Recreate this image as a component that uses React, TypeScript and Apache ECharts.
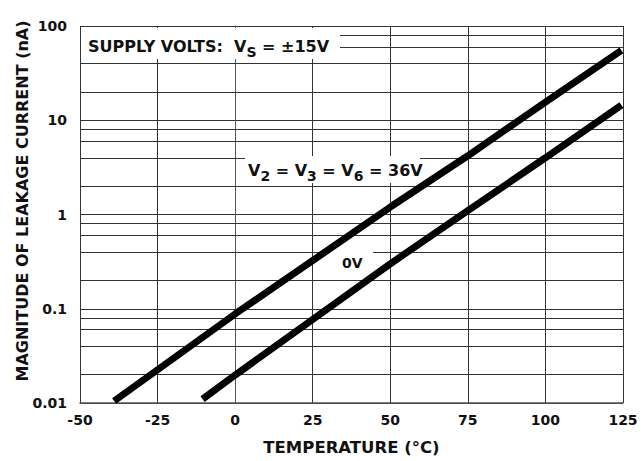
import React, { useEffect, useRef } from 'react';
import * as echarts from 'echarts';

// Axis values
const xMin = -50;
const xMax = 125;
const xStep = 25;
const yTickLabels = ['0.01', '0.1', '1', '10', '100'];
const minorGridValues = [0.02, 0.04, 0.06, 0.08, 0.2, 0.4, 0.6, 0.8, 2, 4, 6, 8, 20, 40, 60, 80];

// Series: V2 = V3 = V6 = 36V
const temp36V = [-39, 0, 50, 75, 100, 124.5];
const leak36V = [0.0105, 0.088, 1.2, 4.2, 15.6, 55];
// Series: 0V
const temp0V = [-10.5, 0, 50, 75, 100, 124.5];
const leak0V = [0.011, 0.0198, 0.3, 1.1, 4.0, 14.5];

const FONT = '"DejaVu Sans", sans-serif';

const richStyles = {
  m: { font: `bold 16px ${FONT}`, fill: '#111', verticalAlign: 'middle', lineHeight: 26 },
  s: { font: `bold 14px ${FONT}`, fill: '#111', verticalAlign: 'bottom', lineHeight: 14 },
};

export default function App() {
  const ref = useRef<HTMLDivElement>(null);
  useEffect(() => {
    if (!ref.current) return;
    const chart = echarts.init(ref.current, undefined, { renderer: 'svg' });
    const lineStyle = { color: '#000', width: 7, cap: 'butt' as const };
    const option: any = {
      animation: false,
      backgroundColor: '#fff',
      grid: { left: 80, right: 21, top: 26, bottom: 58, containLabel: false },
      xAxis: {
        type: 'value',
        min: xMin,
        max: xMax,
        interval: xStep,
        name: 'TEMPERATURE (°C)',
        nameLocation: 'middle',
        nameGap: 36,
        nameTextStyle: { fontFamily: FONT, fontWeight: 'bold', fontSize: 16.5, color: '#111' },
        axisLine: { show: true, onZero: false, lineStyle: { color: '#555', width: 1.5 } },
        axisTick: { show: false },
        axisLabel: { margin: 10, fontFamily: FONT, fontWeight: 'bold', fontSize: 14, color: '#111' },
        splitLine: { show: true, lineStyle: { color: '#333', width: 1 } },
      },
      yAxis: {
        type: 'log',
        logBase: 10,
        min: 0.01,
        max: 100,
        splitNumber: 4,
        axisLine: { show: true, lineStyle: { color: '#555', width: 1 } },
        axisTick: { show: false },
        axisLabel: {
          margin: 13,
          fontFamily: FONT,
          fontWeight: 'bold',
          fontSize: 14,
          color: '#111',
          formatter: (v: number) => yTickLabels[Math.round(Math.log10(v)) + 2] ?? '',
        },
        splitLine: { show: true, lineStyle: { color: '#333', width: 1 } },
      },
      series: [
        {
          name: 'V2 = V3 = V6 = 36V',
          type: 'line',
          z: 10,
          symbol: 'none',
          silent: true,
          lineStyle,
          data: temp36V.map((t, i) => [t, leak36V[i]]),
          markLine: {
            z: 3,
            silent: true,
            symbol: ['none', 'none'],
            label: { show: false },
            lineStyle: { color: '#333', width: 1, type: 'solid' },
            data: minorGridValues.map((v) => ({ yAxis: v })),
          },
        },
        {
          name: '0V',
          type: 'line',
          z: 10,
          symbol: 'none',
          silent: true,
          lineStyle,
          data: temp0V.map((t, i) => [t, leak0V[i]]),
        },
      ],
      graphic: [
        { type: 'rect', z: 6, shape: { x: 81, y: 28, width: 259, height: 31 }, style: { fill: '#fff' } },
        {
          type: 'text', z: 7, x: 88, y: 46,
          style: {
            text: '{m|SUPPLY VOLTS:  V}{s|S}{m| = ±15V}',
            font: `bold 16px ${FONT}`, fill: '#111', align: 'left', verticalAlign: 'middle',
            rich: richStyles,
          },
        },
        { type: 'rect', z: 6, shape: { x: 245, y: 156, width: 175, height: 27 }, style: { fill: '#fff' } },
        {
          type: 'text', z: 7, x: 248, y: 170,
          style: {
            text: '{m|V}{s|2}{m| = V}{s|3}{m| = V}{s|6}{m| = 36V}',
            font: `bold 16px ${FONT}`, fill: '#111', align: 'left', verticalAlign: 'middle',
            rich: richStyles,
          },
        },
        { type: 'rect', z: 6, shape: { x: 330, y: 249, width: 43, height: 22 }, style: { fill: '#fff' } },
        {
          type: 'text', z: 7, x: 342, y: 263,
          style: { text: '0V', font: `bold 14px ${FONT}`, fill: '#111', align: 'left', verticalAlign: 'middle' },
        },
        {
          type: 'text', z: 7, x: 22, y: 201, rotation: Math.PI / 2,
          style: {
            text: 'MAGNITUDE OF LEAKAGE CURRENT (nA)',
            font: `bold 16px ${FONT}`, fill: '#111', align: 'center', verticalAlign: 'middle',
          },
        },
      ],
    };
    chart.setOption(option);
    return () => chart.dispose();
  }, []);
  return (
    <div
      ref={ref}
      style={{ position: 'fixed', left: 0, top: 0, width: 644, height: 461, background: '#fff' }}
    />
  );
}
